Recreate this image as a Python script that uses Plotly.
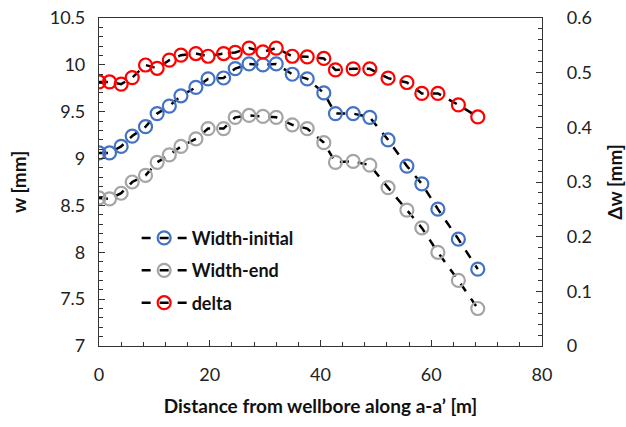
import plotly.graph_objects as go

# Distance from the wellbore along section a-a' [m]
distance = [0, 1.9, 4.0, 6.0, 8.4, 10.5, 12.7, 14.8, 17.5, 19.7, 22.5, 24.6, 27.1,
            29.6, 32.0, 34.9, 37.6, 40.6, 42.7, 45.9, 48.9, 52.2, 55.6, 58.3,
            61.2, 64.9, 68.4]

# Fracture width [mm]
width_initial = [9.06, 9.06, 9.13, 9.24, 9.34, 9.48, 9.56, 9.67, 9.76, 9.85, 9.86,
                 9.96, 10.01, 10.00, 10.01, 9.90, 9.85, 9.70, 9.48, 9.48, 9.44,
                 9.20, 8.92, 8.73, 8.46, 8.14, 7.82]
width_end = [8.58, 8.57, 8.63, 8.75, 8.82, 8.96, 9.04, 9.13, 9.21, 9.32, 9.32,
             9.44, 9.46, 9.45, 9.44, 9.36, 9.32, 9.17, 8.96, 8.97, 8.93,
             8.69, 8.45, 8.26, 8.00, 7.70, 7.40]

# Width change [mm]
delta = [0.483, 0.483, 0.479, 0.491, 0.514, 0.508, 0.523, 0.532, 0.535, 0.530,
         0.535, 0.537, 0.545, 0.538, 0.545, 0.530, 0.529, 0.526, 0.505, 0.507,
         0.507, 0.490, 0.482, 0.462, 0.462, 0.441, 0.419]

FONT = "Lato, 'Open Sans', Arial, sans-serif"

fig = go.Figure()

series = [
    ("Width-initial", width_initial, "#4472C4", "y"),
    ("Width-end", width_end, "#A5A5A5", "y"),
    ("delta", delta, "#FF0000", "y2"),
]
for i, (name, vals, color, yax) in enumerate(series):
    fig.add_trace(go.Scatter(
        x=distance, y=vals, name=f"<b>{name}</b>", yaxis=yax,
        mode="lines+markers", legendgroup=f"g{i}",
        line=dict(color="black", width=2.5, dash="dash"),
        marker=dict(symbol="circle-open", size=13, color=color,
                    line=dict(width=2.2, color=color)),
    ))

axis_common = dict(
    showline=True, linecolor="#333", linewidth=1.2,
    ticks="inside", ticklen=6, tickcolor="#333",
    showgrid=False, zeroline=False, automargin=False,
    tickfont=dict(family=FONT, size=18, color="#222"),
)
title_font = dict(family=FONT, size=19, color="#111")

fig.update_layout(
    width=626, height=427,
    margin=dict(l=99, r=84, t=18, b=81),
    plot_bgcolor="white", paper_bgcolor="white",
    xaxis=dict(
        range=[0, 80], dtick=20, mirror=True, ticklabelstandoff=12,
        minor=dict(dtick=4, ticks="inside", ticklen=4, tickcolor="#333"),
        title=dict(text="<b>Distance from wellbore along a-a’ [m]</b>",
                   font=title_font, standoff=15),
        **axis_common,
    ),
    yaxis=dict(
        range=[7, 10.5], dtick=0.5, ticklabelstandoff=9,
        minor=dict(dtick=0.1, ticks="inside", ticklen=4, tickcolor="#333"),
        title=dict(text="<b>w [mm]</b>", font=title_font, standoff=18),
        **axis_common,
    ),
    yaxis2=dict(
        range=[0, 0.6], dtick=0.1, overlaying="y", side="right",
        ticklabelstandoff=20,
        minor=dict(dtick=0.02, ticks="inside", ticklen=4, tickcolor="#333"),
        title=dict(text="<b>Δw [mm]</b>", font=title_font, standoff=20),
        **axis_common,
    ),
    showlegend=True,
    legend=dict(
        x=0.085, y=0.385, xanchor="left", yanchor="top",
        bgcolor="rgba(0,0,0,0)", traceorder="grouped", tracegroupgap=6,
        font=dict(family=FONT, size=18, color="#111"),
        itemwidth=45,
    ),
)

fig.write_html("out.html")
